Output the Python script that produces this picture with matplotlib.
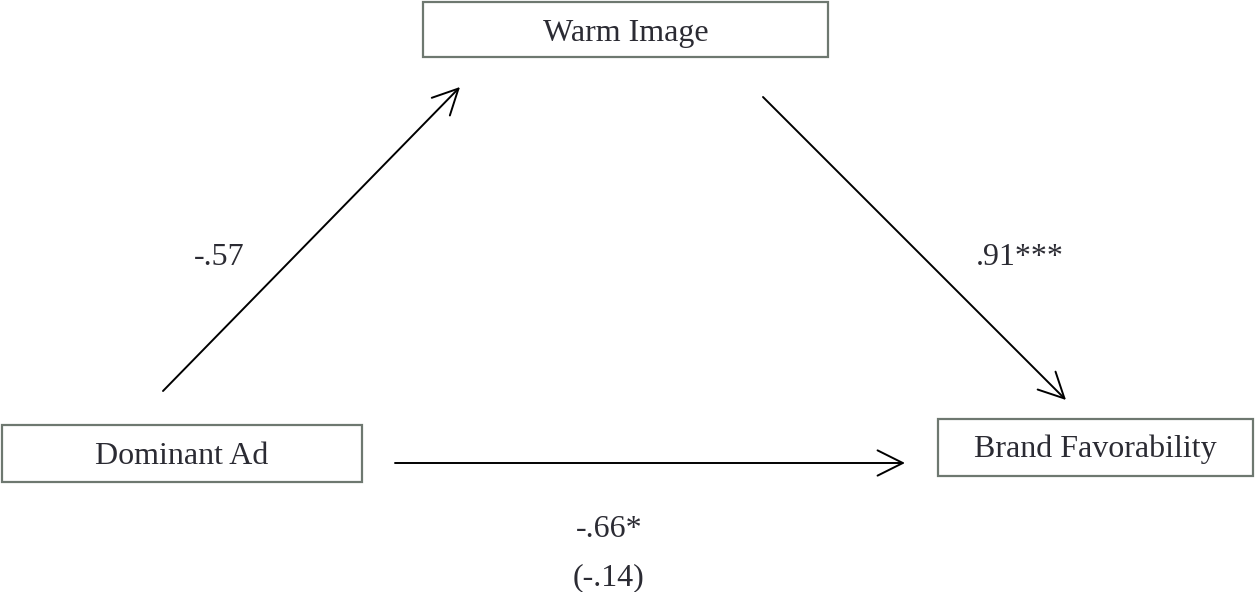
import matplotlib
matplotlib.use("Agg")
import matplotlib.pyplot as plt
from matplotlib.patches import Rectangle, FancyArrowPatch

# Nodes: name, (x0, y0, x1, y1) in pixel space
node_names = ["Warm Image", "Dominant Ad", "Brand Favorability"]
node_boxes = [(423, 2, 828, 57), (2, 425, 362, 482), (938, 419, 1253, 476)]

# Paths: start, end
path_starts = [(163, 391), (763, 97), (395, 463)]
path_ends = [(460, 87), (1066, 400), (905, 463)]

# Coefficient labels (centre x, baseline y)
coef_labels = ["-.57", ".91***", "-.66*", "(-.14)"]
coef_pos = [(219, 265), (1020, 265), (609, 537), (609, 585)]

fig = plt.figure(figsize=(12.55, 5.92), dpi=100)
ax = fig.add_axes([0, 0, 1, 1])
ax.set_xlim(0, 1255)
ax.set_ylim(592, 0)
ax.axis("off")

font = dict(family="Liberation Serif", fontsize=23, color="#2b2b33")

for name, (x0, y0, x1, y1) in zip(node_names, node_boxes):
    ax.add_patch(Rectangle((x0, y0), x1 - x0, y1 - y0, fill=False,
                           edgecolor="#6e7870", linewidth=1.6))
    ax.text((x0 + x1) / 2, y0 + 38.5, name, ha="center", va="baseline", **font)

for s, e in zip(path_starts, path_ends):
    ax.add_patch(FancyArrowPatch(s, e, arrowstyle="->,head_length=1.3,head_width=0.65",
                                 color="black", linewidth=1.4, shrinkA=0, shrinkB=0,
                                 mutation_scale=14))

for lab, (x, y) in zip(coef_labels, coef_pos):
    ax.text(x, y, lab, ha="center", va="baseline", **font)

fig.savefig("out.png", dpi=100)
